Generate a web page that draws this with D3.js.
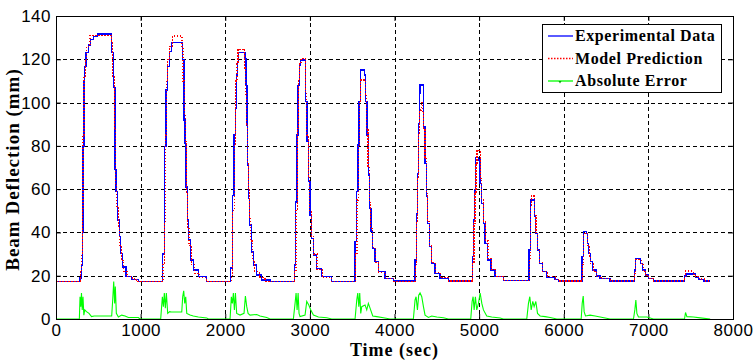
<!DOCTYPE html>
<html lang="en">
<head>
<meta charset="UTF-8">
<title>Beam Deflection</title>
<script src="https://d3js.org/d3.v7.min.js"></script>
<style>
  body { margin: 0; background: #fff; }
  svg { display: block; font-family: 'Liberation Serif', 'Times New Roman', serif; }
  .tick text { font-size: 17px; letter-spacing: 0.5px; }
</style>
</head>
<body>
<div id="chart"></div>
<script>
// [time (sec), deflection (mm)]
const experimental = [
  [0,17.4],[276,17.4],[284,19],[300,25],[311,40],[318,80],[330,110],[340,116.6],[355,123],[380,126.6],[410,129],[440,130.4],[490,131.7],[646,131.7],[658,123],[677,107],[697,69],[709,58.8],[729,45.7],[748,38],[764,30.4],[788,24],[827,19.5],[894,18.3],[973,17.4],
  [1237,17.4],[1261,30],[1280,52],[1285,79.6],[1300,105.8],[1320,116.6],[1339,123.5],[1368,127.7],[1478,127.7],[1497,119.7],[1513,92],[1525,81],[1537,61],[1552,45.7],[1568,36.5],[1592,27.3],[1624,22.6],[1682,19.5],[1781,17.4],
  [2057,17.4],[2065,23.5],[2084,57],[2104,85],[2124,97.5],[2130,112.7],[2143,119],[2155,123.2],[2226,123.2],[2235,120.4],[2246,108],[2258,89.6],[2266,71],[2278,55.8],[2290,43.4],[2313,31],[2337,25],[2372,20.3],[2431,18],[2530,17.2],
  [2805,17.2],[2817,25],[2833,54],[2849,85],[2861,108],[2876,117.4],[2892,119.7],[2935,119.7],[2951,100.4],[2967,82],[2983,63.5],[3002,48],[3022,37.3],[3046,29.6],[3081,23.4],[3140,19.5],[3259,17.2],
  [3514,17.2],[3534,35.7],[3554,58.8],[3570,80.4],[3581,100.4],[3597,115],[3644,112.7],[3660,100.4],[3676,85],[3691,66.5],[3707,51],[3723,40.3],[3743,32.7],[3771,26.5],[3810,21.9],[3889,18.8],[3987,17.5],
  [4223,17.5],[4243,27.3],[4259,48.8],[4271,67.3],[4282,90.4],[4294,104.3],[4302,108.1],[4330,108.1],[4346,88.8],[4362,72],[4377,56.5],[4393,44.2],[4413,33.4],[4440,25.7],[4480,21.1],[4539,18.8],[4637,17.6],
  [4905,17.6],[4921,28.8],[4937,45.7],[4949,59.6],[4961,74.7],[4992,73.5],[5012,62.7],[5032,53.4],[5050,44.2],[5071,35],[5103,27.3],[5142,22.6],[5189,19.5],[5287,17.7],
  [5576,17.7],[5591,31.9],[5606,55],[5638,55],[5654,47.3],[5670,39.6],[5689,31.9],[5713,25.7],[5748,21.9],[5800,19.3],[5898,18.3],[5937,17.6],
  [6202,17.6],[6217,28.8],[6233,40.3],[6265,39.6],[6280,35],[6296,30.3],[6315,26.5],[6343,22.6],[6383,19.9],[6430,18.8],[6548,17.6],
  [6832,22.6],[6848,28],[6895,28],[6911,25.7],[6934,22.6],[6962,20.3],[7001,18.8],[7060,17.6],
  [7427,19.9],[7443,20.8],[7526,20.8],[7553,19.3],[7592,18.3],[7651,17.6],[7730,17.6]
];

const model = [
  [0,17.4],[276,17.4],[290,22],[305,30],[313,50],[320,85],[332,112],[345,120],[365,126],[402,131],[646,131],[655,128],[668,112],[690,88],[705,62],[718,52],[735,42],[755,34],[775,27],[800,22],[840,19.5],[900,18.5],[950,17.4],
  [1237,17.4],[1265,25],[1282,45],[1290,85],[1303,110],[1322,120],[1345,126],[1380,130.8],[1478,130.8],[1490,126],[1500,110],[1515,95],[1527,82],[1540,58],[1556,42],[1572,34],[1600,25],[1640,21],[1700,19],[1781,17.4],
  [2057,17.4],[2070,20],[2088,50],[2108,80],[2125,110],[2140,118],[2150,124.7],[2226,124.7],[2232,116],[2240,104],[2250,90],[2262,72],[2272,60],[2284,47],[2300,36],[2325,27],[2350,22],[2400,19],[2470,17.5],[2530,17.2],
  [2805,17.2],[2820,22],[2837,50],[2852,88],[2865,110],[2880,118.5],[2895,120.4],[2935,120.4],[2948,105],[2963,85],[2980,66],[3000,50],[3020,38],[3046,30],[3085,23],[3150,19],[3259,17.2],
  [3514,17.2],[3540,30],[3558,55],[3572,80],[3585,100],[3600,110.4],[3640,110.4],[3655,104],[3670,88],[3687,70],[3703,54],[3720,42],[3742,33],[3775,26],[3815,21.5],[3895,18.8],[3987,17.5],
  [4223,17.5],[4248,25],[4263,45],[4275,65],[4286,85],[4296,96.6],[4316,100],[4330,96],[4344,88],[4360,74],[4375,58],[4392,45],[4413,34],[4440,26],[4480,21.5],[4539,19],[4637,17.6],
  [4905,17.6],[4925,26],[4940,44],[4952,58],[4963,72],[4975,78],[5000,78],[5012,65],[5032,55],[5052,45],[5073,36],[5105,28],[5145,23],[5195,19.8],[5287,17.7],
  [5576,17.7],[5595,28],[5608,52],[5615,56.8],[5640,56.8],[5656,48],[5672,40],[5692,32],[5716,26],[5752,22],[5805,19.5],[5898,18.3],[5937,17.6],
  [6202,17.6],[6220,25],[6236,39.5],[6268,39.5],[6284,34],[6300,29],[6320,25.5],[6348,22],[6390,19.6],[6440,18.6],[6548,17.6],
  [6824,17.6],[6836,21],[6852,27.5],[6898,27.5],[6915,25],[6938,22],[6968,20],[7005,18.7],[7060,17.6],
  [7427,19.5],[7443,22.2],[7500,22.2],[7530,20.5],[7560,19.5],[7600,18.5],[7660,17.6],[7730,17.6]
];

const absError = [
  [0,0],[276,0],[284,10.3],[293,5.7],[301,12],[310,4.2],[319,10.3],[329,1.8],[340,4.2],[360,3.4],[390,2.6],[420,1.1],[450,1.4],[658,1.4],[670,8.8],[682,17.3],[693,7.2],[701,15],[713,2.6],[737,0.9],[776,1.8],[816,1.4],[855,0.7],[973,0.7],[993,0],
  [1237,0],[1257,10.3],[1269,5.7],[1280,12],[1292,5],[1304,12],[1320,2.6],[1343,3.4],[1363,3.2],[1486,3.2],[1497,10.3],[1509,13],[1521,7.2],[1533,10.3],[1545,2.6],[1584,1.8],[1623,1.4],[1682,0.9],[1781,0.5],[1800,0],
  [2057,0],[2072,10.3],[2084,7.2],[2096,12],[2108,4.2],[2120,12],[2135,2.6],[2175,1.8],[2222,2.6],[2238,10.6],[2254,5.7],[2270,2.6],[2293,1.8],[2372,2.1],[2411,1.4],[2490,0.7],[2530,0],
  [2805,0],[2825,7.2],[2837,12],[2849,4.2],[2861,12],[2872,2.6],[2884,1.1],[2943,1.8],[2963,8.1],[2987,6.5],[3011,4.2],[3042,1.8],[3101,0.9],[3200,0.6],[3259,0],
  [3534,0],[3554,8.8],[3566,12],[3578,5.7],[3589,12],[3601,2.6],[3613,5.7],[3652,6.5],[3672,4.2],[3691,7.2],[3711,5],[3743,1.4],[3790,1.1],[3869,0.6],[3948,0],
  [4223,0],[4243,8.8],[4255,10.3],[4271,4.2],[4286,11],[4302,12],[4322,10.3],[4342,5.7],[4361,1.8],[4401,0.7],[4440,1.4],[4500,0.9],[4578,0.6],[4637,0],
  [4901,0],[4917,8.1],[4929,10.3],[4941,4.2],[4956,10.3],[4972,4.2],[4992,7.2],[5012,12],[5032,7.2],[5051,4.2],[5090,1.4],[5149,0.9],[5248,0.5],[5287,0],
  [5563,0],[5583,7.2],[5599,10.3],[5615,4.2],[5634,8.1],[5650,5.7],[5670,8.1],[5690,2.6],[5721,1.4],[5780,1.1],[5839,0.7],[5918,0],
  [6206,0],[6218,7.2],[6230,10.6],[6241,3.4],[6257,1.4],[6312,1.8],[6371,1.4],[6430,0.9],[6548,0],
  [6824,0],[6840,4.2],[6852,8.8],[6864,2.6],[6883,0.9],[6982,0.9],[7060,0],
  [7427,0],[7439,3],[7455,1.1],[7533,0.9],[7612,0.5],[7730,0]
];

const xTicks = [0, 1000, 2000, 3000, 4000, 5000, 6000, 7000, 8000];
const yTicks = [0, 20, 40, 60, 80, 100, 120, 140];
const legendLabels = ["Experimental Data", "Model Prediction", "Absolute Error"];

const width = 756, height = 363;
const margin = { top: 16, right: 23, bottom: 44, left: 56 };
const w = width - margin.left - margin.right;
const h = height - margin.top - margin.bottom;

const svg = d3.select("#chart").append("svg")
  .attr("width", width)
  .attr("height", height);

const g = svg.append("g")
  .attr("transform", `translate(${margin.left},${margin.top})`);

const x = d3.scaleLinear().domain([0, 8000]).range([0, w]);
const y = d3.scaleLinear().domain([0, 140]).range([h, 0]);

// grid (dashed black)
g.append("g").selectAll("line")
  .data(xTicks.slice(1, -1))
  .join("line")
  .attr("x1", d => Math.round(x(d)) + 0.5).attr("x2", d => Math.round(x(d)) + 0.5)
  .attr("y1", 0).attr("y2", h)
  .attr("stroke", "#000").attr("stroke-dasharray", "4,3");

g.append("g").selectAll("line")
  .data(yTicks.slice(1, -1))
  .join("line")
  .attr("y1", d => Math.round(y(d)) + 0.5).attr("y2", d => Math.round(y(d)) + 0.5)
  .attr("x1", 0).attr("x2", w)
  .attr("stroke", "#000").attr("stroke-dasharray", "4,3");

// axes, ticks pointing inwards
g.append("g")
  .attr("transform", `translate(0,${h})`)
  .call(d3.axisBottom(x).tickValues(xTicks).tickSize(-5).tickPadding(5).tickFormat(d3.format("d")));
g.append("g")
  .call(d3.axisLeft(y).tickValues(yTicks).tickSize(-5).tickPadding(5).tickFormat(d3.format("d")));
g.append("g")
  .call(d3.axisTop(x).tickValues(xTicks).tickSize(-5).tickFormat(""));
g.append("g")
  .attr("transform", `translate(${w},0)`)
  .call(d3.axisRight(y).tickValues(yTicks).tickSize(-5).tickFormat(""));

g.selectAll(".domain").remove();
g.selectAll(".tick line").attr("stroke", "#000");
g.selectAll(".tick text").attr("fill", "#000");

// lines
const stepLine = d3.line()
  .x(d => x(d[0]))
  .y(d => y(d[1]))
  .curve(d3.curveStepAfter);
const line = d3.line()
  .x(d => x(d[0]))
  .y(d => y(d[1]));

g.append("path")
  .datum(experimental)
  .attr("d", stepLine)
  .attr("fill", "none")
  .attr("stroke", "#0000ff")
  .attr("stroke-width", 1.3)
  .attr("shape-rendering", "crispEdges");

g.append("path")
  .datum(model)
  .attr("d", stepLine)
  .attr("fill", "none")
  .attr("stroke", "#ff0000")
  .attr("stroke-width", 1.2)
  .attr("stroke-dasharray", "1.5,1.5")
  .attr("shape-rendering", "crispEdges");

g.append("path")
  .datum(absError)
  .attr("d", line)
  .attr("fill", "none")
  .attr("stroke", "#00ff00")
  .attr("stroke-width", 1.1);

// frame
g.append("rect")
  .attr("x", 0.5).attr("y", 0.5)
  .attr("width", w).attr("height", h)
  .attr("fill", "none").attr("stroke", "#000");

// axis titles
svg.append("text")
  .attr("x", margin.left + w / 2)
  .attr("y", 356)
  .attr("text-anchor", "middle")
  .attr("font-size", 18)
  .attr("font-weight", "bold")
  .attr("letter-spacing", 1)
  .text("Time (sec)");

svg.append("text")
  .attr("transform", `translate(19,${margin.top + h / 2 + 2}) rotate(-90)`)
  .attr("text-anchor", "middle")
  .attr("font-size", 19)
  .attr("font-weight", "bold")
  .attr("letter-spacing", 1)
  .text("Beam Deflection (mm)");

// legend
const legend = svg.append("g").attr("transform", "translate(542,24)");
legend.append("rect")
  .attr("x", 0.5).attr("y", 0.5)
  .attr("width", 179).attr("height", 68)
  .attr("fill", "#fff").attr("stroke", "#000");

const legendStyles = [
  { color: "#0000ff", dash: null },
  { color: "#ff0000", dash: "1.5,1.5" },
  { color: "#00ff00", dash: null }
];

const items = legend.selectAll("g.item")
  .data(legendLabels)
  .join("g")
  .attr("class", "item")
  .attr("transform", (d, i) => `translate(0,${12 + i * 22.5})`);

items.append("line")
  .attr("x1", 6).attr("x2", 31)
  .attr("y1", 0).attr("y2", 0)
  .attr("stroke", (d, i) => legendStyles[i].color)
  .attr("stroke-width", 1.3)
  .attr("stroke-dasharray", (d, i) => legendStyles[i].dash);

items.filter((d, i) => i === 2)
  .append("path")
  .attr("d", "M16.5,0 L19.5,0 L18,2.5 Z")
  .attr("fill", "#00aa00");

items.append("text")
  .attr("x", 33)
  .attr("y", 5)
  .attr("font-size", 16)
  .attr("font-weight", "bold")
  .attr("letter-spacing", 0.6)
  .text(d => d);
</script>
</body>
</html>
